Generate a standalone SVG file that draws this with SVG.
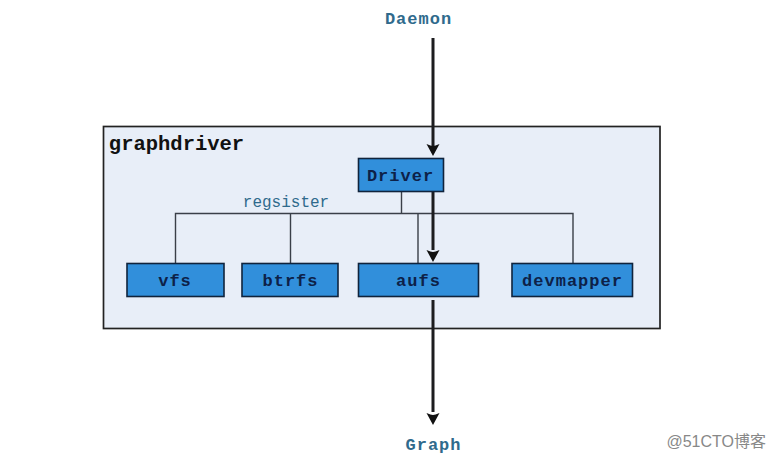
<svg xmlns="http://www.w3.org/2000/svg" width="775" height="458" viewBox="0 0 775 458">
<style>
.box{fill:#318fdb;stroke:#10233c;stroke-width:1.600}
.t{font-family:"Liberation Mono","DejaVu Sans Mono",monospace;font-weight:bold;text-anchor:middle}
.n{font-size:17px;letter-spacing:1px;fill:#0d2148}
.e{font-size:17px;letter-spacing:1px;fill:#2f6a8c}
.l{fill:none;stroke:#3a3f48;stroke-width:1.400}
.a{fill:none;stroke:#1c1c1f;stroke-width:3}
.h{fill:#111}
</style>
<rect width="775" height="458" fill="#fff"/>
<g id="graphdriver">
<rect x="103.500" y="126.500" width="556.500" height="202" fill="#e8eef8" stroke="#222" stroke-width="1.700"/>
<text class="t" x="176.500" y="149.500" font-size="20.500" fill="#111">graphdriver</text>
</g>
<g id="daemon"><text class="t e" x="418.500" y="24">Daemon</text></g>
<g id="graph"><text class="t e" x="433.500" y="450">Graph</text></g>
<g id="connectors">
<path class="l" d="M401.500 192V213.500M175.500 263V213.500H573V263M290.500 213.500V263M418 213.500V263"/>
<path class="a" d="M433 38V146M433 192V250M433 300V412"/>
<path class="h" d="M426.500 144Q431 146 433 146Q435 146 439.500 144L433 156ZM426.500 250Q431 252 433 252Q435 252 439.500 250L433 262ZM426.500 413Q431 415 433 415Q435 415 439.500 413L433 425Z"/>
</g>
<g id="driver"><rect class="box" x="358.500" y="158.500" width="85" height="33"/><text class="t n" x="400.500" y="181">Driver</text></g>
<g id="vfs"><rect class="box" x="127" y="263.500" width="97" height="33"/><text class="t n" x="175" y="286">vfs</text></g>
<g id="btrfs"><rect class="box" x="242" y="263.500" width="96" height="33"/><text class="t n" x="290.500" y="286">btrfs</text></g>
<g id="aufs"><rect class="box" x="358.500" y="263.500" width="120" height="33"/><text class="t n" x="418.500" y="286">aufs</text></g>
<g id="devmapper"><rect class="box" x="512" y="263.500" width="120.500" height="33"/><text class="t n" x="572.500" y="286">devmapper</text></g>
<g id="regsister-label"><text x="286" y="207" font-family="'Liberation Mono',monospace" font-size="16" fill="#2f6a8c" text-anchor="middle">regsister</text></g>
<g id="watermark"><text x="766" y="447" font-family="'Liberation Sans','Noto Sans CJK SC',sans-serif" font-size="16" fill="#888" text-anchor="end">@51CTO博客</text></g>
</svg>
